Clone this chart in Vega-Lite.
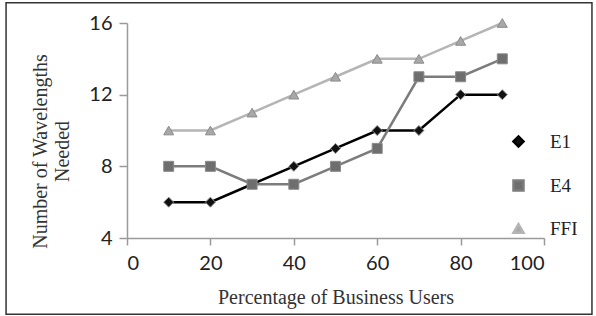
{
  "$schema": "https://vega.github.io/schema/vega-lite/v6.json",
  "autosize": "none",
  "width": 417,
  "height": 215,
  "padding": {"left": 127, "top": 23, "right": 52, "bottom": 78},
  "background": "white",
  "config": {"view": {"stroke": null}},
  "data": {"values": [
    {"users": 10, "wavelengths": 6, "series": "E1"},
    {"users": 20, "wavelengths": 6, "series": "E1"},
    {"users": 30, "wavelengths": 7, "series": "E1"},
    {"users": 40, "wavelengths": 8, "series": "E1"},
    {"users": 50, "wavelengths": 9, "series": "E1"},
    {"users": 60, "wavelengths": 10, "series": "E1"},
    {"users": 70, "wavelengths": 10, "series": "E1"},
    {"users": 80, "wavelengths": 12, "series": "E1"},
    {"users": 90, "wavelengths": 12, "series": "E1"},
    {"users": 10, "wavelengths": 8, "series": "E4"},
    {"users": 20, "wavelengths": 8, "series": "E4"},
    {"users": 30, "wavelengths": 7, "series": "E4"},
    {"users": 40, "wavelengths": 7, "series": "E4"},
    {"users": 50, "wavelengths": 8, "series": "E4"},
    {"users": 60, "wavelengths": 9, "series": "E4"},
    {"users": 70, "wavelengths": 13, "series": "E4"},
    {"users": 80, "wavelengths": 13, "series": "E4"},
    {"users": 90, "wavelengths": 14, "series": "E4"},
    {"users": 10, "wavelengths": 10, "series": "FFI"},
    {"users": 20, "wavelengths": 10, "series": "FFI"},
    {"users": 30, "wavelengths": 11, "series": "FFI"},
    {"users": 40, "wavelengths": 12, "series": "FFI"},
    {"users": 50, "wavelengths": 13, "series": "FFI"},
    {"users": 60, "wavelengths": 14, "series": "FFI"},
    {"users": 70, "wavelengths": 14, "series": "FFI"},
    {"users": 80, "wavelengths": 15, "series": "FFI"},
    {"users": 90, "wavelengths": 16, "series": "FFI"}
  ]},
  "layer": [
    {
      "mark": {"type": "line", "strokeWidth": 2.5},
      "encoding": {
        "x": {
          "field": "users", "type": "quantitative",
          "scale": {"domain": [0, 100], "nice": false, "zero": false},
          "axis": {
            "title": "Percentage of Business Users",
            "values": [0, 20, 40, 60, 80, 100],
            "grid": false, "labelOverlap": false,
            "domainColor": "#9a9a9a", "domainWidth": 1.5,
            "tickColor": "#9a9a9a", "tickWidth": 1.5, "tickSize": 7,
            "labelFont": "Lato", "labelFontSize": 20, "labelColor": "#222", "labelPadding": 8,
            "titleFont": "Liberation Serif", "titleFontSize": 20, "titleFontWeight": "normal", "titleColor": "#333",
            "titleBaseline": "alphabetic", "titleY": 65
          }
        },
        "y": {
          "field": "wavelengths", "type": "quantitative",
          "scale": {"domain": [4, 16], "nice": false, "zero": false},
          "axis": {
            "title": ["Number of Wavelengths", "Needed"],
            "values": [4, 6, 8, 10, 12, 14, 16],
            "grid": false, "labelOverlap": false,
            "domainColor": "#9a9a9a", "domainWidth": 1.5,
            "tickColor": "#9a9a9a", "tickWidth": 1.5, "tickSize": 8,
            "labelFont": "Lato", "labelFontSize": 20, "labelColor": "#222", "labelPadding": 7,
            "titleFont": "Liberation Serif", "titleFontSize": 20, "titleFontWeight": "normal", "titleColor": "#333",
            "titleLineHeight": 22, "titleAngle": -90, "titleAlign": "center", "titleBaseline": "top",
            "titleX": -97, "titleY": 128
          }
        },
        "stroke": {
          "field": "series", "type": "nominal",
          "scale": {"domain": ["E1", "E4", "FFI"], "range": ["#000000", "#7c7c7c", "#b5b5b5"]},
          "legend": {
            "title": null,
            "orient": "none",
            "legendX": 382,
            "legendY": 109,
            "padding": 0,
            "symbolSize": 100,
            "symbolStrokeWidth": 2.5,
            "labelOffset": 22,
            "labelFont": "Liberation Serif",
            "labelFontSize": 19,
            "labelColor": "#222",
            "rowPadding": 23,
            "encode": {
              "symbols": {
                "update": {
                  "shape": {"signal": "datum.value == 'E1' ? 'M-5,0H5M0,-1.1L1.1,0L0,1.1L-1.1,0Z' : datum.value == 'E4' ? 'M-5,0H5M-0.9,-0.9H0.9V0.9H-0.9Z' : 'M-5,0H5M0,-1.1L1.1,0.8H-1.1Z'"},
                  "fill": {"signal": "datum.value == 'E1' ? '#111111' : datum.value == 'E4' ? '#6e6e6e' : '#a8a8a8'"},
                  "strokeWidth": {"value": 2.5},
                  "opacity": {"value": 1}
                }
              }
            }
          }
        }
      }
    },
    {
      "mark": {"type": "point", "filled": true, "size": 100, "stroke": "#8a8a8a", "strokeWidth": 1, "opacity": 1},
      "encoding": {
        "x": {"field": "users", "type": "quantitative"},
        "y": {"field": "wavelengths", "type": "quantitative"},
        "fill": {
          "field": "series", "type": "nominal",
          "scale": {"domain": ["E1", "E4", "FFI"], "range": ["#111111", "#6e6e6e", "#a8a8a8"]},
          "legend": null
        },
        "shape": {
          "field": "series", "type": "nominal",
          "scale": {"domain": ["E1", "E4", "FFI"], "range": ["diamond", "square", "triangle-up"]}
        }
      }
    },
    {
      "data": {"values": [{"frame": "border"}]},
      "mark": {"type": "rect", "fill": "transparent", "stroke": "#333333", "strokeWidth": 1.5},
      "encoding": {
        "x": {"datum": -29.0, "type": "quantitative", "axis": {"values": [0, 20, 40, 60, 80, 100], "labelOverlap": false}},
        "x2": {"datum": 111.5},
        "y": {"datum": 17.13, "type": "quantitative", "axis": {"values": [4, 6, 8, 10, 12, 14, 16], "labelOverlap": false}},
        "y2": {"datum": -0.26}
      }
    }
  ]
}
